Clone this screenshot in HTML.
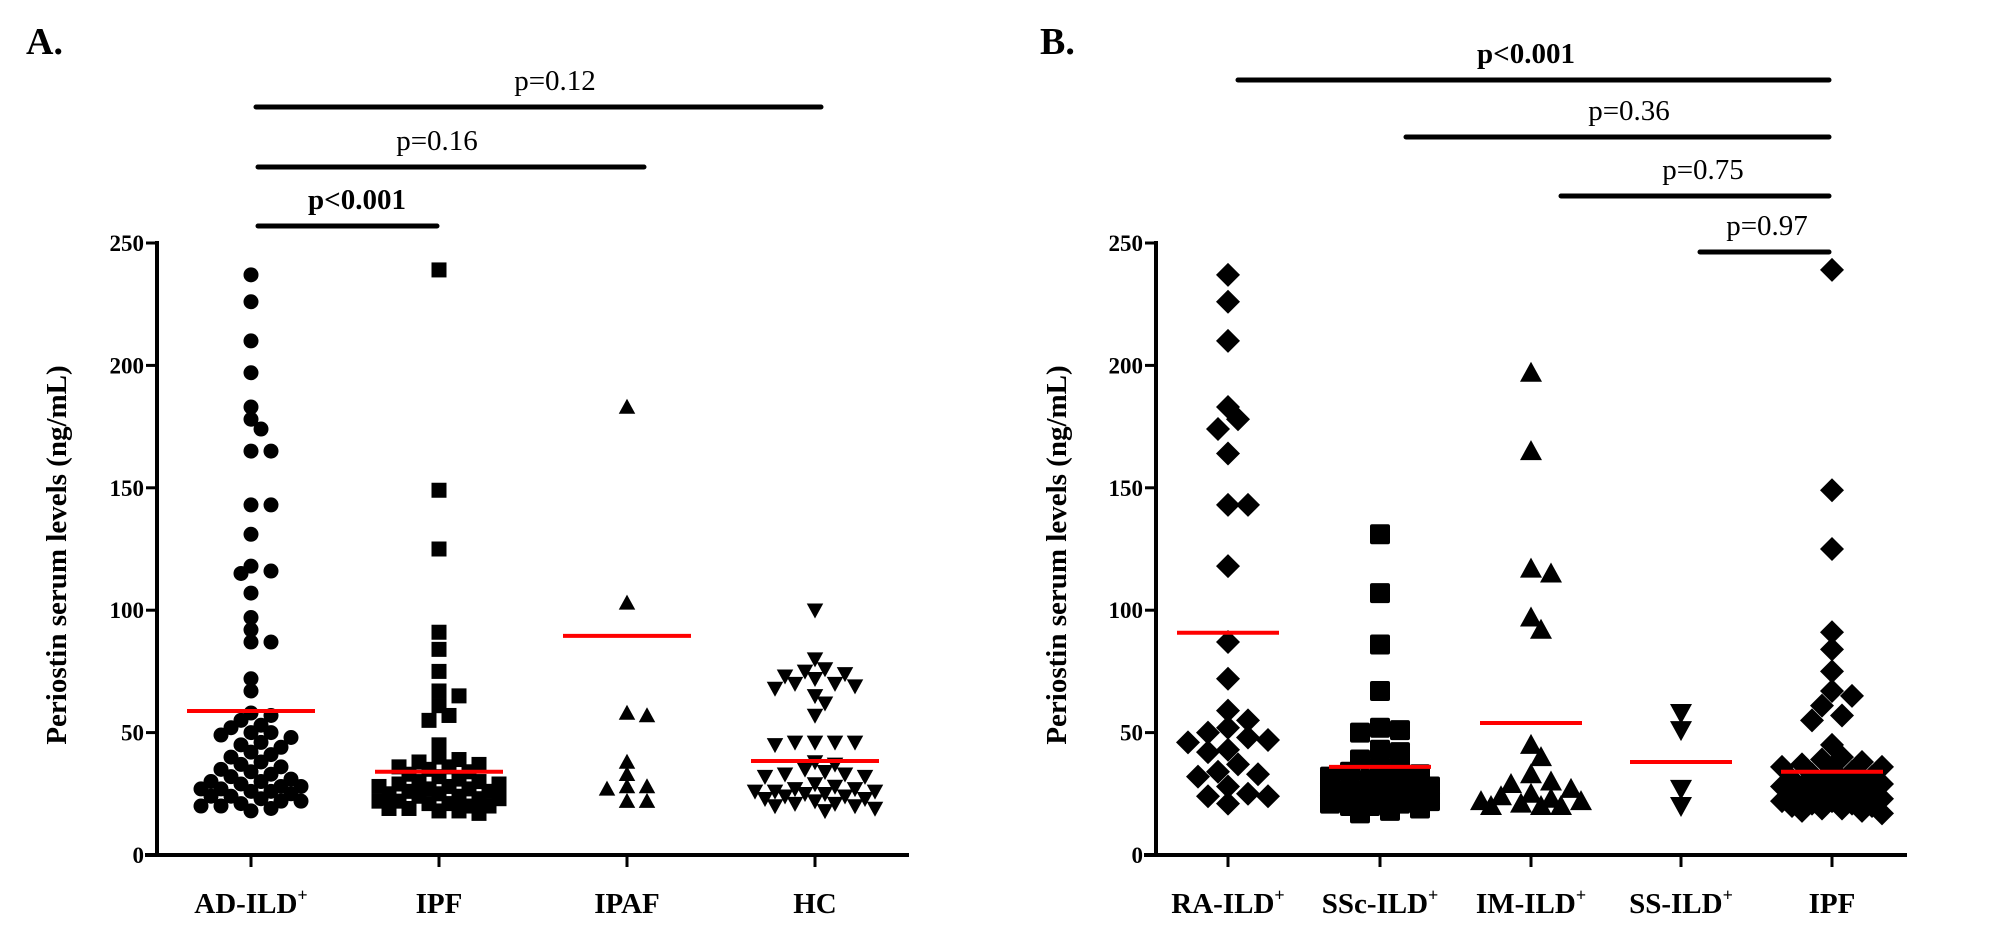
<!DOCTYPE html>
<html><head><meta charset="utf-8">
<style>
html,body{margin:0;padding:0;background:#fff;}
svg{display:block;font-family:"Liberation Serif",serif;}
</style></head>
<body>
<svg id="chart" width="2000" height="945" viewBox="0 0 2000 945" xmlns="http://www.w3.org/2000/svg">
<text x="26" y="54" font-size="38" font-weight="bold">A.</text>
<text x="1040" y="54" font-size="38" font-weight="bold">B.</text>
</svg>
<script>
// ---- Data: Panel A ----
const catsA = ["AD-ILD", "IPF", "IPAF", "HC"];
const adild = [237,226,210,197,183,178,174,165,165,143,143,131,118,116,115,107,97,92,87,87,72,67,58,57,55,53,52,50,50,49,48,46,45,44,42,41,40,38,37,36,35,34,33,32,31,30,30,29,28,28,27,27,26,26,25,24,24,23,22,22,21,20,20,19,18];
const ipf = [239,149,125,91,84,75,67,65,61,57,55,45,40,39,38,37,36,36,35,34,33,32,31,30,30,29,29,28,28,27,27,26,26,25,25,24,24,23,23,22,22,21,21,20,20,19,19,18,18,17];
const ipaf = [183,103,58,57,38,33,28,28,27,22,22];
const hc = [100,80,76,75,74,73,72,70,70,69,68,65,62,57,46,46,46,46,45,38,37,35,34,33,33,32,32,29,28,27,27,26,26,26,25,25,24,24,23,23,22,21,21,20,20,19,18];
const meansA = [58.8, 34, 89.5, 38.4];
// ---- Data: Panel B ----
const catsB = ["RA-ILD", "SSc-ILD", "IM-ILD", "SS-ILD", "IPF"];
const raild = [237,226,210,183,178,174,164,143,143,118,87,72,59,55,52,50,48,47,46,43,42,37,34,33,32,28,25,24,24,21];
const sscild = [131,107,86,67,52,51,50,43,42,39,36,35,34,33,32,31,30,29,28,27,27,26,26,25,25,24,24,23,23,22,22,21,21,20,20,19,18,17];
const imild = [197,165,117,115,97,92,45,40,33,30,29,27,25,24,23,22,22,21,20,20,20];
const ssild = [58,51,27,20];
const ipfB = ipf;
const meansB = [90.8, 36, 53.9, 38, 34];
const yTicks = [0,50,100,150,200,250];
const pA = ["p<0.001","p=0.16","p=0.12"];
const pB = ["p<0.001","p=0.36","p=0.75","p=0.97"];

const NS="http://www.w3.org/2000/svg";
const svg=document.getElementById('chart');
function mk(tag,attrs,parent){const e=document.createElementNS(NS,tag);for(const k in attrs)e.setAttribute(k,attrs[k]);(parent||svg).appendChild(e);return e;}
const y0=855, yTop=243;
function yS(v){return y0-(v/250)*(y0-yTop);}

function swarm(vals,cx,minD,step,maxOff){
  const placed=[];
  const sorted=vals.slice().sort((a,b)=>b-a);
  const nK=Math.floor(maxOff/step);
  sorted.forEach(v=>{
    const y=yS(v);
    let best=null,bestD=-1,done=false;
    for(let k=0;k<=2*nK;k++){
      const off=(k===0?0:(k%2?1:-1)*Math.ceil(k/2)*step);
      const x=cx+off;
      const d=placed.length?Math.min(...placed.map(p=>Math.hypot(p.x-x,p.y-y))):1e9;
      if(d>=minD){placed.push({x:x,y:y});done=true;break;}
      if(d>bestD){bestD=d;best=x;}
    }
    if(!done)placed.push({x:best,y:y});
  });
  return placed;
}
function marker(g,shape,x,y,s){
  let e;
  if(shape==='circle'){e=mk('circle',{cx:x,cy:y,r:s/2,fill:'#000'},g);}
  else if(shape==='square'){e=mk('rect',{x:x-s/2,y:y-s/2,width:s,height:s,rx:s>15?2:0,fill:'#000'},g);}
  else if(shape==='tri'){e=mk('polygon',{points:`${x},${y-s*0.55} ${x-s*0.55},${y+s*0.45} ${x+s*0.55},${y+s*0.45}`,fill:'#000'},g);}
  else if(shape==='itri'){e=mk('polygon',{points:`${x},${y+s*0.55} ${x-s*0.55},${y-s*0.45} ${x+s*0.55},${y-s*0.45}`,fill:'#000'},g);}
  else {e=mk('polygon',{points:`${x},${y-s*0.6} ${x+s*0.6},${y} ${x},${y+s*0.6} ${x-s*0.6},${y}`,fill:'#000'},g);}
  
  
}
function panel(opt){
  const g=mk('g',{});
  
  
  const ya=mk('line',{x1:opt.ax,y1:yTop-2,x2:opt.ax,y2:y0+2,stroke:'#000','stroke-width':4},g);
  
  
  const xa=mk('line',{x1:opt.ax-12,y1:y0,x2:opt.axEnd,y2:y0,stroke:'#000','stroke-width':4},g);
  
  
  yTicks.forEach(t=>{
    const tk=mk('line',{x1:opt.ax-11,y1:yS(t),x2:opt.ax,y2:yS(t),stroke:'#000','stroke-width':3},g);
    
    
    const tl=mk('text',{x:opt.ax-13,y:yS(t)+8,'text-anchor':'end','font-size':23,'font-weight':'bold'},g);
    tl.textContent=t;
    
    
  });
  const yt=mk('text',{x:0,y:0,'text-anchor':'middle','font-size':29,'font-weight':'bold',transform:`translate(${opt.titleX},555) rotate(-90)`},g);
  yt.textContent='Periostin serum levels (ng/mL)';
  
  
  opt.cats.forEach((c,i)=>{
    const cx=opt.cx[i];
    const tk=mk('line',{x1:cx,y1:y0,x2:cx,y2:y0+12,stroke:'#000','stroke-width':3},g);
    
    
    const lab=mk('text',{x:cx,y:913,'text-anchor':'middle','font-size':29,'font-weight':'bold'},g);
    lab.textContent=c;
    if(opt.sup[i]){const ts=mk('tspan',{dy:-12,'font-size':18},lab);ts.textContent='+';}
    
    
    const pts=swarm(opt.series[i],cx,opt.minD,opt.step,opt.maxOff);
    pts.forEach(p=>marker(g,opt.shapes[i],p.x,p.y,opt.size));
    const ml=mk('line',{x1:cx-opt.mw/2,y1:yS(opt.means[i]),x2:cx+opt.mw/2,y2:yS(opt.means[i]),stroke:'#ff0000','stroke-width':4},g);
    
    
  });
  opt.bars.forEach((b,j)=>{
    const bl=mk('line',{x1:b[0],y1:b[2],x2:b[1],y2:b[2],stroke:'#000','stroke-width':5,'stroke-linecap':'round'},g);
    
    
    const bt=mk('text',{x:b[3],y:b[2]-17,'text-anchor':'middle','font-size':29,'font-weight':opt.pv[j]==='p<0.001'?'bold':'normal'},g);
    bt.textContent=opt.pv[j];
    
    
  });
}
panel({name:'panel-a',ax:157,axEnd:909,titleX:66,cats:["AD-ILD","IPF","IPAF","HC"],sup:[true,false,false,false],
  cx:[251,439,627,815],series:[adild,ipf,ipaf,hc],shapes:['circle','square','tri','itri'],size:15,minD:12,step:10,maxOff:60,means:meansA,mw:128,
  pv:pA,bars:[[258,437,226,357],[258,644,167,437],[256,821,107,555]]});
panel({name:'panel-b',ax:1156,axEnd:1907,titleX:1066,cats:["RA-ILD","SSc-ILD","IM-ILD","SS-ILD","IPF"],sup:[true,true,true,true,false],
  cx:[1228,1380,1531,1681,1832],series:[raild,sscild,imild,ssild,ipfB],shapes:['diamond','square','tri','itri','diamond'],size:20,minD:15,step:10,maxOff:50,means:meansB,mw:102,
  pv:pB,bars:[[1238,1829,80,1526],[1406,1829,137,1629],[1561,1829,196,1703],[1700,1829,252,1767]]});
</script>
</body></html>
